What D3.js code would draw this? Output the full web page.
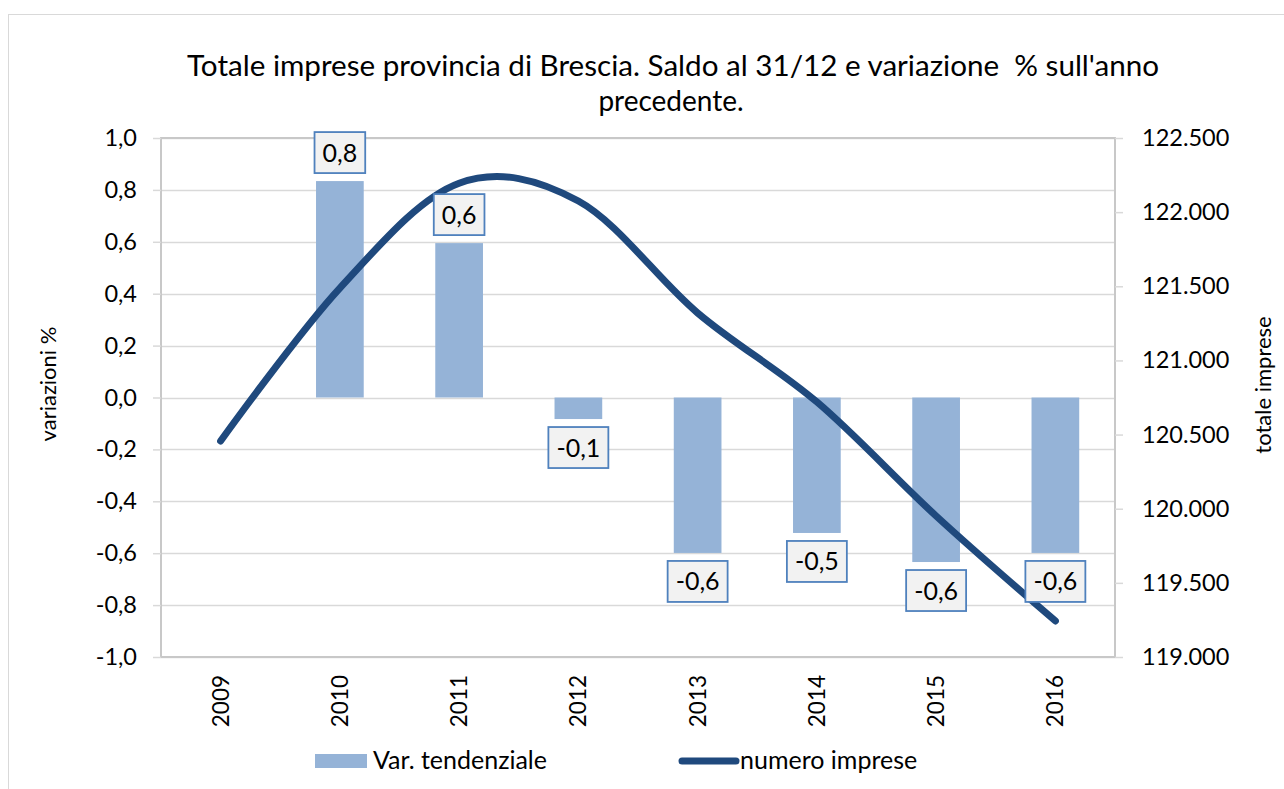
<!DOCTYPE html>
<html><head><meta charset="utf-8">
<script src="https://cdn.jsdelivr.net/npm/d3@7"></script>
<style>
html,body{margin:0;padding:0;background:#fff;}
svg{display:block;font-family:Lato, "Open Sans", sans-serif;}
</style></head>
<body>
<svg id="chart" width="1284" height="789"></svg>
<script>
const years = ["2009","2010","2011","2012","2013","2014","2015","2016"];
const varPct = [null, 0.834, 0.595, -0.083, -0.599, -0.522, -0.634, -0.599];
const imprese = [120457, 121488, 122195, 122075, 121320, 120720, 119951, 119243];
const leftTicks = [1.0, 0.8, 0.6, 0.4, 0.2, 0.0, -0.2, -0.4, -0.6, -0.8, -1.0];
const rightTicks = [122500, 122000, 121500, 121000, 120500, 120000, 119500, 119000];
const titleLines = ["Totale imprese provincia di Brescia. Saldo al 31/12 e variazione  % sull'anno", "precedente."];
const legendLabels = ["Var. tendenziale", "numero imprese"];
const leftTitle = "variazioni %";
const rightTitle = "totale imprese";

const itLocale = d3.formatLocale({decimal: ",", thousands: ".", grouping: [3], currency: ["", "€"], minus: "-"});
const fmt1 = itLocale.format(".1f");
const fmtK = itLocale.format(",d");

const svg = d3.select("#chart");
const L = 161, R = 1115, T = 138, B = 657;
const barColor = "#95b3d7", lineColor = "#1f497d";

// outer chart border
svg.append("rect").attr("x", 8.5).attr("y", 14.5).attr("width", 1300).attr("height", 800)
  .attr("fill", "#fff").attr("stroke", "#d9d9d9").attr("stroke-width", 1);

const x = d3.scaleBand().domain(years).range([L, R]).paddingInner(0.6).paddingOuter(0.3);
const yL = d3.scaleLinear().domain([-1, 1]).range([B, T]);
const yR = d3.scaleLinear().domain([119000, 122500]).range([B, T]);
const cx = d => x(d) + x.bandwidth() / 2;

// gridlines
svg.append("g").selectAll("line").data(leftTicks).join("line")
  .attr("x1", L).attr("x2", R)
  .attr("y1", d => Math.round(yL(d)) + 0.5).attr("y2", d => Math.round(yL(d)) + 0.5)
  .attr("stroke", "#d9d9d9").attr("stroke-width", 1.5);

// plot border
svg.append("rect").attr("x", L).attr("y", T).attr("width", R - L).attr("height", B - T)
  .attr("fill", "none").attr("stroke", "#c8c8c8").attr("stroke-width", 2);

// left axis
const gL = svg.append("g").attr("transform", `translate(${L},0)`)
  .call(d3.axisLeft(yL).tickValues(leftTicks).tickFormat(fmt1).tickSize(8).tickPadding(16));
gL.select(".domain").remove();
gL.selectAll(".tick line").attr("stroke", "#d9d9d9").attr("stroke-width", 1.5);
gL.selectAll(".tick text").attr("font-family", "Lato").attr("font-size", 23.5).attr("fill", "#000");

// right axis
const gR = svg.append("g").attr("transform", `translate(${R},0)`)
  .call(d3.axisRight(yR).tickValues(rightTicks).tickFormat(fmtK).tickSize(8).tickPadding(19));
gR.select(".domain").remove();
gR.selectAll(".tick line").attr("stroke", "#d9d9d9").attr("stroke-width", 1.5);
gR.selectAll(".tick text").attr("font-family", "Lato").attr("font-size", 23.5).attr("fill", "#000");

// x axis labels (rotated)
svg.append("g").selectAll("text").data(years).join("text")
  .attr("transform", d => `translate(${cx(d) + 8},675) rotate(-90)`)
  .attr("text-anchor", "end").attr("font-size", 22.5).attr("fill", "#000")
  .text(d => d);

// bars
const barData = years.map((y, i) => ({year: y, v: varPct[i]})).filter(d => d.v !== null);
svg.append("g").selectAll("rect").data(barData).join("rect")
  .attr("x", d => x(d.year)).attr("width", x.bandwidth())
  .attr("y", d => yL(Math.max(0, d.v)))
  .attr("height", d => Math.abs(yL(d.v) - yL(0)))
  .attr("fill", barColor);

// line
const lineData = years.map((y, i) => ({year: y, v: imprese[i]}));
svg.append("path").datum(lineData)
  .attr("d", d3.line().x(d => cx(d.year)).y(d => yR(d.v)).curve(d3.curveCardinal.tension(0)))
  .attr("fill", "none").attr("stroke", lineColor).attr("stroke-width", 7)
  .attr("stroke-linecap", "round").attr("stroke-linejoin", "round");

// data labels
const lg = svg.append("g");
barData.forEach(d => {
  const g = lg.append("g");
  const t = g.append("text").attr("font-size", 25).attr("fill", "#000")
    .attr("text-anchor", "middle").text(fmt1(d.v));
  const w = t.node().getComputedTextLength() + 16;
  const h = 41;
  const bx = cx(d.year);
  const by = d.v >= 0 ? yL(d.v) - 8 - h : yL(d.v) + 8;
  g.insert("rect", "text").attr("x", bx - w / 2).attr("y", by).attr("width", w).attr("height", h)
    .attr("fill", "#f2f2f2").attr("stroke", "#4f81bd").attr("stroke-width", 1.8);
  t.attr("x", bx).attr("y", by + h / 2 + 9);
});

// title
svg.append("text").attr("x", 673).attr("y", 76).attr("text-anchor", "middle")
  .attr("font-size", 28).attr("fill", "#000").style("white-space", "pre")
  .attr("textLength", 972).attr("lengthAdjust", "spacingAndGlyphs").text(titleLines[0]);
svg.append("text").attr("x", 671).attr("y", 111).attr("text-anchor", "middle")
  .attr("font-size", 28).attr("fill", "#000").text(titleLines[1]);

// axis titles
svg.append("text").attr("transform", "translate(56,384) rotate(-90)").attr("text-anchor", "middle")
  .attr("font-size", 22).attr("fill", "#000").text(leftTitle);
svg.append("text").attr("transform", "translate(1271,385) rotate(-90)").attr("text-anchor", "middle")
  .attr("font-size", 22).attr("fill", "#000").text(rightTitle);

// legend
svg.append("rect").attr("x", 315).attr("y", 754).attr("width", 52).attr("height", 14).attr("fill", barColor);
svg.append("text").attr("x", 373).attr("y", 769).attr("font-size", 25).attr("fill", "#000").text(legendLabels[0]);
svg.append("line").attr("x1", 682).attr("x2", 736).attr("y1", 761).attr("y2", 761)
  .attr("stroke", lineColor).attr("stroke-width", 7).attr("stroke-linecap", "round");
svg.append("text").attr("x", 740).attr("y", 769).attr("font-size", 25).attr("fill", "#000").text(legendLabels[1]);
</script>
</body></html>
